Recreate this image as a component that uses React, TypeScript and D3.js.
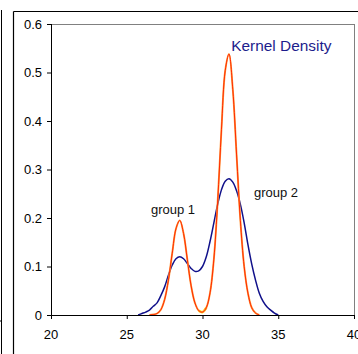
import React from "react";
import * as d3 from "d3";

const xTicks = [20, 25, 30, 35, 40];
const yTicks = [0, 0.1, 0.2, 0.3, 0.4, 0.5, 0.6];
const yTickLabels = ["0", "0.1", "0.2", "0.3", "0.4", "0.5", "0.6"];

const mixX = [26.5, 26.75, 27, 27.25, 27.5, 27.75, 28, 28.25, 28.5, 28.75, 29, 29.25, 29.5, 29.75, 30, 30.25, 30.5, 30.75, 31, 31.25, 31.5, 31.75, 32, 32.25, 32.5, 32.75, 33, 33.25, 33.5, 33.75];
const mixY = [0.0, 0.001, 0.003, 0.011, 0.032, 0.072, 0.127, 0.178, 0.195, 0.168, 0.114, 0.06, 0.025, 0.009, 0.006, 0.015, 0.046, 0.115, 0.233, 0.382, 0.504, 0.538, 0.465, 0.33, 0.195, 0.1, 0.045, 0.015, 0.004, 0.0];

const kdX = [25.75, 26, 26.25, 26.5, 26.75, 27, 27.25, 27.5, 27.75, 28, 28.25, 28.5, 28.75, 29, 29.25, 29.5, 29.75, 30, 30.25, 30.5, 30.75, 31, 31.25, 31.5, 31.75, 32, 32.25, 32.5, 32.75, 33, 33.25, 33.5, 33.75, 34, 34.25, 34.5, 34.75, 35];
const kdY = [0.0, 0.003, 0.006, 0.01, 0.018, 0.025, 0.04, 0.058, 0.082, 0.103, 0.116, 0.12, 0.116, 0.106, 0.096, 0.09, 0.091, 0.1, 0.12, 0.152, 0.19, 0.228, 0.258, 0.276, 0.281, 0.274, 0.256, 0.228, 0.19, 0.145, 0.105, 0.072, 0.045, 0.028, 0.017, 0.01, 0.004, 0.0];

const labels = [
  { text: "Kernel Density", x: 31.9, y: 0.545, color: "#1c1c8c", size: 15.4 },
  { text: "group 1", x: 26.6, y: 0.209, color: "#111", size: 13 },
  { text: "group 2", x: 33.4, y: 0.244, color: "#111", size: 13 },
];

export default function App() {
  const left = 51, right = 354, top = 24, bottom = 315;
  const x = d3.scaleLinear().domain([20, 40]).range([left, right]);
  const y = d3.scaleLinear().domain([0, 0.6]).range([bottom, top]);

  const mix = mixX.map((v, i) => [v, mixY[i]] as [number, number]);
  const kd = kdX.map((v, i) => [v, kdY[i]] as [number, number]);

  const line = d3
    .line<[number, number]>()
    .x((d) => x(d[0]))
    .y((d) => y(d[1]))
    .curve(d3.curveCatmullRom.alpha(0.5));

  const yellow = mix.filter((d) => d[0] >= 29.75 && d[0] <= 30.25);
  const font = "Arial, 'Liberation Sans', sans-serif";

  return (
    <svg
      width={358}
      height={354}
      style={{ position: "absolute", left: 0, top: 0, background: "#fff" }}
    >
      {/* outer frames */}
      <line x1={1.5} y1={10} x2={1.5} y2={354} stroke="#000" strokeWidth={1} />
      <line x1={0} y1={321} x2={2} y2={321} stroke="#000" strokeWidth={1} />
      <line x1={13.5} y1={11.5} x2={13.5} y2={354} stroke="#000" strokeWidth={1.2} />
      <line x1={13.5} y1={11.5} x2={358} y2={11.5} stroke="#000" strokeWidth={1.2} />

      {/* plot area border */}
      <line x1={left} y1={top + 0.5} x2={right} y2={top + 0.5} stroke="#808080" strokeWidth={1} />
      <line x1={right + 0.5} y1={top} x2={right + 0.5} y2={bottom} stroke="#808080" strokeWidth={1} />

      {/* curves */}
      <path d={line(kd) || ""} fill="none" stroke="#10108a" strokeWidth={1.5} />
      <path d={line(yellow) || ""} fill="none" stroke="#ffee00" strokeWidth={2.5} />
      <path d={line(mix) || ""} fill="none" stroke="#ff9a40" strokeWidth={1.9} />
      <path d={line(mix) || ""} fill="none" stroke="#ff2a00" strokeWidth={1} />

      {/* axes */}
      <line x1={left + 0.5} y1={top} x2={left + 0.5} y2={bottom} stroke="#000" strokeWidth={1} />
      <line x1={left} y1={bottom + 0.5} x2={right + 1} y2={bottom + 0.5} stroke="#000" strokeWidth={1} />
      {yTicks.map((t, i) => (
        <g key={"y" + i}>
          <line x1={left - 4} x2={left} y1={y(t) + 0.5} y2={y(t) + 0.5} stroke="#000" />
          <text
            x={42}
            y={y(t) + 4.5}
            textAnchor="end"
            fontFamily={font}
            fontSize={13}
            fill="#000"
          >
            {yTickLabels[i]}
          </text>
        </g>
      ))}
      {xTicks.map((t) => (
        <g key={"x" + t}>
          <line x1={x(t) + 0.5} x2={x(t) + 0.5} y1={bottom} y2={bottom + 4} stroke="#000" />
          <text
            x={x(t)}
            y={339}
            textAnchor="middle"
            fontFamily={font}
            fontSize={13}
            fill="#000"
          >
            {t}
          </text>
        </g>
      ))}

      {labels.map((l) => (
        <text
          key={l.text}
          x={x(l.x)}
          y={y(l.y)}
          fontFamily={font}
          fontSize={l.size}
          fill={l.color}
        >
          {l.text}
        </text>
      ))}
    </svg>
  );
}
